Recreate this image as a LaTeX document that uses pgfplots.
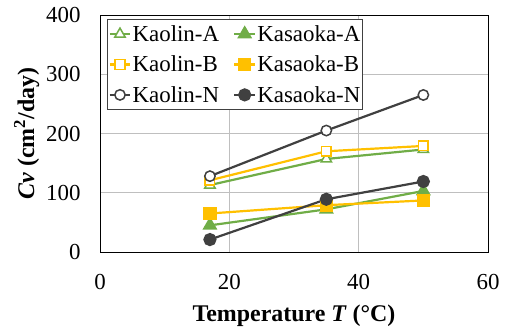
\documentclass[border=0pt]{standalone}
\usepackage{pgfplots}
\pgfplotsset{compat=1.18}
\usepackage{fontspec}
\setmainfont{Liberation Serif}
\usetikzlibrary{calc}
\definecolor{cgreen}{HTML}{70AD47}
\definecolor{cyellow}{HTML}{FFC000}
\definecolor{cgray}{HTML}{404040}
\begin{document}
\begin{tikzpicture}
\begin{axis}[
  name=ax,
  scale only axis,
  width=388bp, height=237bp,
  xmin=0, xmax=60, ymin=0, ymax=400,
  xtick={0,20,40,60}, ytick={0,100,200,300,400},
  grid=major,
  major grid style={draw=black!25, line width=0.8bp},
  axis line style={black, line width=0.9bp},
  tick style={draw=none},
  /pgf/number format/assume math mode=true,
  ticklabel style={font=\fontsize{23}{25}\selectfont},
  xticklabel style={yshift=-19bp},
  yticklabel style={xshift=-16bp},
  xlabel={\textbf{Temperature \textit{T} (°C)}},
  ylabel={\textbf{\textit{Cv} (cm\textsuperscript{2}/day)}},
  label style={font=\fontsize{24}{26}\selectfont},
  xlabel style={yshift=-8bp},
  ylabel style={yshift=0bp},
  legend columns=2,
  legend cell align=left,
  legend style={at={(0,1)}, anchor=north west, xshift=7bp, yshift=-4bp,
    draw=cgray, line width=0.8bp, font=\fontsize{23}{25}\selectfont,
    inner xsep=1bp, inner ysep=5bp, row sep=11bp,
    nodes={inner sep=1bp},
    /tikz/every even column/.append style={column sep=13bp}},
  legend image code/.code={\draw[mark repeat=2,mark phase=2] plot coordinates {(0cm,0cm) (0.37cm,0cm) (0.74cm,0cm)};},
  every axis plot/.append style={line width=2.2bp},
]
\addplot[cgreen, mark=triangle*, mark size=6bp, mark options={fill=white, line width=1.5bp}] coordinates {(17,113) (35,157) (50,173)};
\addlegendentry{Kaolin-A}
\addplot[cgreen, mark=triangle*, mark size=6.5bp, mark options={fill=cgreen}] coordinates {(17,45) (35,72) (50,103)};
\addlegendentry{Kasaoka-A}
\addplot[cyellow, mark=square*, mark size=4.8bp, mark options={fill=white, line width=1.5bp}] coordinates {(17,121) (35,170) (50,179)};
\addlegendentry{Kaolin-B}
\addplot[cyellow, mark=square*, mark size=5.5bp, mark options={fill=cyellow}] coordinates {(17,65) (35,79) (50,87)};
\addlegendentry{Kasaoka-B}
\addplot[cgray, mark=*, mark size=5.2bp, mark options={fill=white, line width=1.5bp}] coordinates {(17,128) (35,205) (50,265)};
\addlegendentry{Kaolin-N}
\addplot[cgray, mark=*, mark size=5.5bp, mark options={fill=cgray}] coordinates {(17,21) (35,89) (50,119)};
\addlegendentry{Kasaoka-N}
\end{axis}
\path[use as bounding box] ($(ax.south west)+(-100bp,-76bp)$) rectangle ($(ax.north east)+(22bp,15bp)$);
\end{tikzpicture}
\end{document}
